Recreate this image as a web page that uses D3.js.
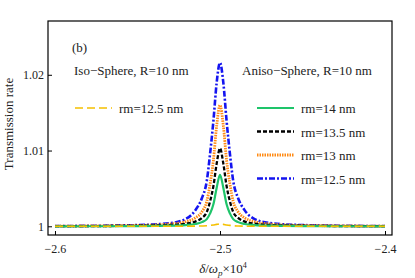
<!DOCTYPE html>
<html>
<head>
<meta charset="utf-8">
<script src="https://cdn.jsdelivr.net/npm/d3@7"></script>
<style>
  body { margin: 0; background: #fff; }
  svg { display: block; font-family: "Liberation Serif", "Times New Roman", serif; }
</style>
</head>
<body>
<div class="viz"></div>
<script>
// detuning (x10^4)
const detuning = [-2.6, -2.55, -2.53, -2.521, -2.515, -2.511, -2.508, -2.506, -2.504, -2.502, -2.5,
  -2.498, -2.496, -2.494, -2.492, -2.489, -2.485, -2.479, -2.47, -2.45, -2.4]

const isoRm125 = [1, 1, 1, 1, 1.00002, 1.00004, 1.00007, 1.00012, 1.00018, 1.00025, 1.0003,
  1.00025, 1.00018, 1.00012, 1.00007, 1.00004, 1.00002, 1, 1, 1, 1]
const anisoRm14 = [1, 1.00003, 1.00008, 1.00016, 1.0003, 1.00055, 1.00095, 1.0017, 1.0029, 1.0051, 1.0068,
  1.0051, 1.0029, 1.0017, 1.00095, 1.00055, 1.0003, 1.00016, 1.00008, 1.00003, 1]
const anisoRm135 = [1.00001, 1.00007, 1.00017, 1.00034, 1.00062, 1.0011, 1.0019, 1.0033, 1.0053, 1.0083, 1.0103,
  1.0083, 1.0053, 1.0033, 1.0019, 1.0011, 1.00062, 1.00034, 1.00017, 1.00007, 1.00001]
const anisoRm13 = [1.00002, 1.00011, 1.0003, 1.0006, 1.0011, 1.0019, 1.0033, 1.0056, 1.0087, 1.0133, 1.016,
  1.0133, 1.0087, 1.0056, 1.0033, 1.0019, 1.0011, 1.0006, 1.0003, 1.00011, 1.00002]
const anisoRm125 = [1.00003, 1.00016, 1.00043, 1.00095, 1.0021, 1.0037, 1.006, 1.0096, 1.0139, 1.019, 1.0216,
  1.019, 1.0139, 1.0096, 1.006, 1.0037, 1.0021, 1.00095, 1.00043, 1.00016, 1.00003]

const xTicks = [-2.6, -2.5, -2.4]
const yTicks = [1, 1.01, 1.02]

const series = [
  {name: 'iso', label: 'rm=12.5 nm', values: isoRm125, color: '#f5c000', dash: '8,4', w: 1.6},
  {name: 'a14', label: 'rm=14 nm', values: anisoRm14, color: '#1ec46a', dash: null, w: 2.2},
  {name: 'a135', label: 'rm=13.5 nm', values: anisoRm135, color: '#000000', dash: '4,2', w: 2.3},
  {name: 'a13', label: 'rm=13 nm', values: anisoRm13, color: '#ff8a14', dash: '1.5,1', w: 2.8},
  {name: 'a125', label: 'rm=12.5 nm', values: anisoRm125, color: '#1414f0', dash: '6,2,2,2', w: 2.6}
]

const width = 415
const height = 278
const frame = {left: 48, right: 392, top: 21, bottom: 235}

const svg = d3.select('.viz').append('svg')
  .attr('width', width)
  .attr('height', height)

const x = d3.scaleLinear([-2.60424, -2.39576], [frame.left, frame.right])
const y = d3.scaleLinear([0.99885, 1.0271], [frame.bottom, frame.top])

const line = d3.line()
  .x((d, i) => x(detuning[i]))
  .y(d => y(d))
  .curve(d3.curveMonotoneX)

// curves, drawn back to front
const order = ['a125', 'a13', 'a135', 'a14', 'iso']
order.forEach(n => {
  const s = series.find(d => d.name === n)
  svg.append('path')
    .attr('d', line(s.values))
    .attr('fill', 'none')
    .attr('stroke', s.color)
    .attr('stroke-width', s.w)
    .attr('stroke-dasharray', s.dash)
})

// frame
svg.append('rect')
  .attr('x', frame.left)
  .attr('y', frame.top)
  .attr('width', frame.right - frame.left)
  .attr('height', frame.bottom - frame.top)
  .attr('fill', 'none')
  .attr('stroke', '#000')
  .attr('stroke-width', 1.2)

const xAxis = svg.append('g')
  .attr('transform', `translate(0,${frame.bottom})`)
  .call(d3.axisBottom(x).tickValues(xTicks).tickSize(-4).tickPadding(9)
    .tickFormat(d => d3.format('.1f')(d).replace('-', '−')))
xAxis.select('.domain').remove()

const yAxis = svg.append('g')
  .attr('transform', `translate(${frame.left},0)`)
  .call(d3.axisLeft(y).tickValues(yTicks).tickSize(-4).tickPadding(4)
    .tickFormat(d => d === 1 ? '1' : d3.format('.2f')(d)))
yAxis.select('.domain').remove()

svg.selectAll('.tick text')
  .attr('font-family', '"Liberation Serif", serif')
  .attr('font-size', 12)
  .attr('fill', '#222')
svg.selectAll('.tick line').attr('stroke', '#000')

// axis titles
svg.append('text')
  .attr('transform', 'translate(13,124) rotate(-90)')
  .attr('text-anchor', 'middle')
  .attr('font-size', 13)
  .attr('fill', '#222')
  .text('Transmission rate')

const xt = svg.append('text')
  .attr('x', 223)
  .attr('y', 273)
  .attr('text-anchor', 'middle')
  .attr('font-size', 13)
  .attr('fill', '#222')
xt.append('tspan').attr('font-style', 'italic').text('δ')
xt.append('tspan').text('/')
xt.append('tspan').attr('font-style', 'italic').text('ω')
xt.append('tspan').attr('font-style', 'italic').attr('font-size', 9).attr('dy', 3).text('p')
xt.append('tspan').attr('dy', -3).text('×10')
xt.append('tspan').attr('font-size', 8).attr('dy', -5).text('4')

// annotations
const note = (tx, ty, str) => svg.append('text')
  .attr('x', tx).attr('y', ty)
  .attr('font-size', 13)
  .attr('fill', '#222')
  .text(str)

note(72, 52, '(b)')
note(74, 75, 'Iso−Sphere, R=10 nm')
note(242, 75, 'Aniso−Sphere, R=10 nm')

// legends
const legendRows = [
  {s: series[0], lx: 75, ty: 108},
  {s: series[1], lx: 257, ty: 108},
  {s: series[2], lx: 257, ty: 131.5},
  {s: series[3], lx: 257, ty: 155},
  {s: series[4], lx: 257, ty: 178.5}
]
legendRows.forEach(r => {
  svg.append('line')
    .attr('x1', r.lx).attr('x2', r.lx + 37)
    .attr('y1', r.ty).attr('y2', r.ty)
    .attr('stroke', r.s.color)
    .attr('stroke-width', r.s.w)
    .attr('stroke-dasharray', r.s.dash)
  note(r.lx + 44, r.ty + 5, r.s.label)
})
</script>
</body>
</html>
